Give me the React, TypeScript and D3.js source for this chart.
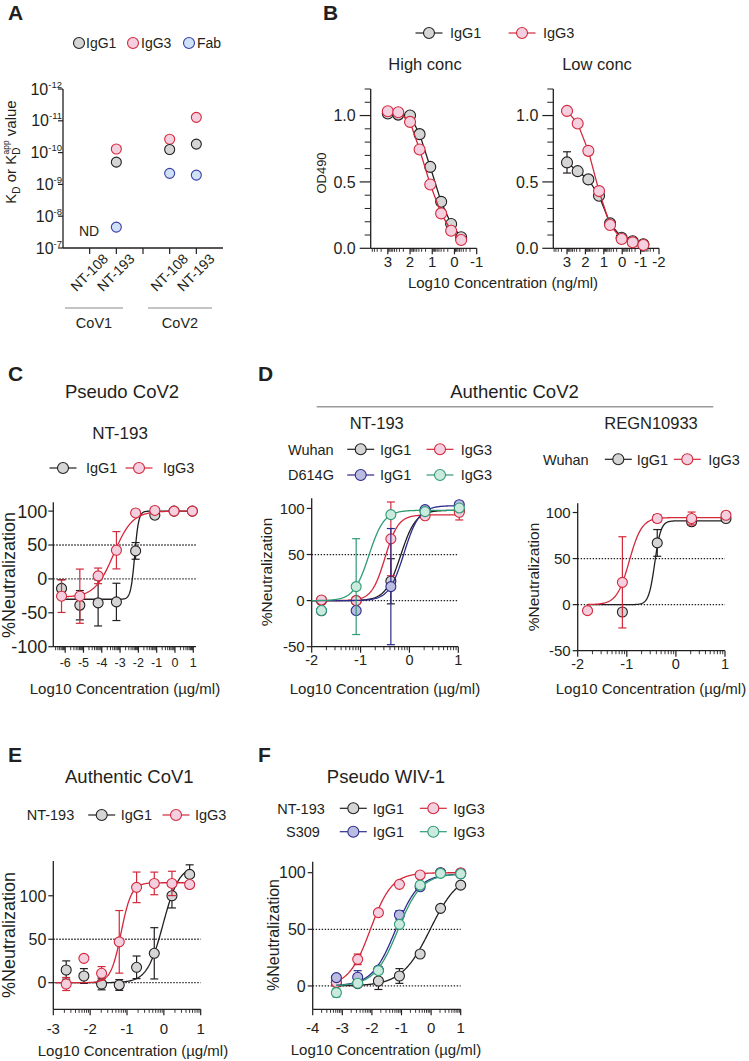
import React from 'react';
import * as d3 from 'd3';

const FONT = '"Liberation Sans", Arial, Helvetica, sans-serif';
const INK = '#231f20';

type Pal = { fill: string; stroke: string };
const GRAY: Pal = { fill: '#d5d5d5', stroke: '#231f20' };
const RED: Pal = { fill: '#f3cfdf', stroke: '#d4283b' };
const BLUE: Pal = { fill: '#bbbde0', stroke: '#2d2b8c' };
const GREEN: Pal = { fill: '#cae9df', stroke: '#2f9b72' };
const FAB: Pal = { fill: '#cfe1f6', stroke: '#3a3ea4' };

type Fit = { bottom: number; top: number; ec50: number; hill: number };
type Series = { x: number[]; y: (number | null)[]; err?: number[]; pal: Pal; fit?: Fit; connect?: boolean };

// ---- A: KD values
const kdSlots = [1, 2, 4, 5];
const kdAntibodies = ['NT-108', 'NT-193', 'NT-108', 'NT-193'];
const kdGroups = ['CoV1', 'CoV2'];
const kdIgG1 = [null, 2.0e-10, 8.0e-11, 5.4e-11];
const kdIgG3 = [null, 7.7e-11, 3.8e-11, 7.8e-12];
const kdFab = [null, 2.2e-8, 4.5e-10, 5.1e-10];
const kdExponents = [-12, -11, -10, -9, -8, -7];

// ---- B: ELISA
const elisaHighX = [3, 2.53, 2.0, 1.57, 1.09, 0.6, 0.15, -0.3];
const elisaHighIgG1 = [1.015, 1.007, 1.0, 0.86, 0.613, 0.35, 0.183, 0.083];
const elisaHighIgG3 = [1.032, 1.025, 0.952, 0.744, 0.481, 0.263, 0.132, 0.062];
const elisaLowX = [3, 2.42, 1.84, 1.26, 0.66, 0.03, -0.57, -1.15];
const elisaLowIgG1 = [0.647, 0.581, 0.519, 0.396, 0.188, 0.08, 0.053, 0.03];
const elisaLowIgG1Err = [0.08, 0, 0, 0, 0, 0, 0, 0];
const elisaLowIgG3 = [1.035, 0.94, 0.734, 0.431, 0.175, 0.07, 0.045, 0.025];

// ---- C: pseudo CoV2
const pcX = [-6.2, -5.2, -4.2, -3.2, -2.15, -1.1, -0.05, 0.95];
const pcIgG1 = [-14, -38.8, -35.4, -33.9, 41.3, 94, 100, 100];
const pcIgG1Err = [13, 21.6, 34, 27.5, 12.3, 5, 0, 0];
const pcIgG3 = [-25.5, -25.5, 4.5, 42.3, 97.3, 101, 100, 100];
const pcIgG3Err = [24, 40, 11.5, 27.5, 0, 0, 0, 0];
const pcFitIgG1: Fit = { bottom: -30, top: 100, ec50: -2.2, hill: 4 };
const pcFitIgG3: Fit = { bottom: -27, top: 100, ec50: -3.35, hill: 0.85 };

// ---- D: authentic CoV2
const acX = [-1.8, -1.09, -0.38, 0.32, 1.02];
const acWuhanIgG1 = [0, 0, 21, 97.6, 97.6];
const acWuhanIgG1Err = [0, 0, 24.5, 0, 0];
const acWuhanIgG3 = [0.7, 0, 67, 92, 95.8];
const acWuhanIgG3Err = [0, 0, 40, 0, 8.3];
const acD614GIgG1 = [-11, -10.8, 15.2, 98.7, 104];
const acD614GIgG1Err = [0, 0, 63, 0, 0];
const acD614GIgG3 = [-10.8, 15.2, 93.3, 96.5, 100.5];
const acD614GIgG3Err = [0, 52, 0, 0, 0];
const regnIgG1 = [null, -8, 67, 90, 93.5];
const regnIgG1Err = [0, 0, 14.5, 3.5, 0];
const regnIgG3 = [-6.5, 24.2, 93.5, 93.5, 97];
const regnIgG3Err = [0, 49.5, 4.2, 7, 0];

// ---- E: authentic CoV1
const ecX = [-2.65, -2.17, -1.69, -1.21, -0.74, -0.26, 0.22, 0.7];
const ecIgG1 = [14.6, 7.7, -1.5, -2.6, 17.7, 33.8, 100, 124.6];
const ecIgG1Err = [10.5, 8.5, 6.7, 6.2, 13, 29.5, 14, 11];
const ecIgG3 = [-1.5, 28, 10.8, 47, 109.7, 114.2, 114.2, 113];
const ecIgG3Err = [7.5, 0, 7.7, 36, 17.6, 13, 14, 3];

// ---- F: pseudo WIV-1
const pwX = [-3.2, -2.48, -1.78, -1.07, -0.37, 0.32, 1.0];
const pwNtIgG1 = [3, 2, 4.4, 8.8, 28.2, 68.5, 89];
const pwNtIgG1Err = [0, 0, 7.5, 6.5, 0, 0, 0];
const pwNtIgG3 = [3.2, 23.5, 64.7, 89.7, 98, 100, 100];
const pwNtIgG3Err = [0, 4.7, 0, 0, 0, 0, 0];
const pwSIgG1 = [7.4, 7.7, 14, 62.7, 87.6, 100, 99];
const pwSIgG1Err = [0, 5.8, 3, 3.8, 0, 0, 0];
const pwSIgG3 = [-5.9, 2.4, 13.5, 54.4, 89, 99.4, 99];
const pwSIgG3Err = [3.8, 0, 0, 0, 0, 0, 0];

const logistic = (f: Fit) => (x: number) =>
  f.bottom + (f.top - f.bottom) / (1 + Math.pow(10, (f.ec50 - x) * f.hill));

type PlotProps = {
  xDomain: [number, number];
  xRange: [number, number];
  yDomain: [number, number];
  yRange: [number, number];
  xTicks: number[];
  yTicks: number[];
  yMinor?: number[];
  logMinor?: boolean;
  xFont: number;
  yFont: number;
  xLabelDy: number;
  yFmt?: (v: number) => string;
  dotted?: number[];
  series: Series[];
  curveX?: [number, number];
  r?: number;
  yTickLen?: number;
  yLabelGap?: number;
};

function Plot(p: PlotProps) {
  const x = d3.scaleLinear().domain(p.xDomain).range(p.xRange);
  const y = d3.scaleLinear().domain(p.yDomain).range(p.yRange);
  const [xl, xr] = p.xRange;
  const [yb, yt] = p.yRange;
  const lo = Math.min(...p.xDomain);
  const hi = Math.max(...p.xDomain);
  // log-style minor ticks between the integer (decade) ticks
  const minor: number[] = [];
  if (p.logMinor) {
    for (let n = Math.floor(lo) - 1; n <= hi; n++) {
      for (let k = 2; k <= 9; k++) {
        const v = n + Math.log10(k);
        if (v >= lo && v <= hi) minor.push(v);
      }
    }
  }
  const tl = p.yTickLen ?? 5;
  const gap = p.yLabelGap ?? 2;
  const fmt = p.yFmt ?? ((v: number) => String(v));
  const r = p.r ?? 5;
  const cx = p.curveX ?? [lo, hi];
  const samples = d3.range(201).map((i) => cx[0] + ((cx[1] - cx[0]) * i) / 200);
  const line = d3.line<[number, number]>().x((d) => x(d[0])).y((d) => y(d[1]));

  return (
    <g>
      {(p.dotted || []).map((v) => (
        <line key={'d' + v} x1={xl} x2={xr} y1={y(v)} y2={y(v)} stroke={INK} strokeWidth={1.3} strokeDasharray="1.4 1.6" />
      ))}
      <line x1={xl} x2={xl} y1={yb} y2={yt} stroke={INK} strokeWidth={1.3} />
      <line x1={xl} x2={xr} y1={yb} y2={yb} stroke={INK} strokeWidth={1.3} />
      {p.yTicks.map((v) => (
        <g key={'yt' + v}>
          <line x1={xl - tl} x2={xl} y1={y(v)} y2={y(v)} stroke={INK} strokeWidth={1.2} />
          <text x={xl - tl - gap} y={y(v) + p.yFont * 0.36} textAnchor="end" fontSize={p.yFont}>
            {fmt(v)}
          </text>
        </g>
      ))}
      {(p.yMinor || []).map((v) => (
        <line key={'ym' + v} x1={xl - 6} x2={xl} y1={y(v)} y2={y(v)} stroke={INK} strokeWidth={1} />
      ))}
      {minor.map((v, i) => (
        <line key={'xm' + i} x1={x(v)} x2={x(v)} y1={yb} y2={yb + 3.5} stroke={INK} strokeWidth={0.9} />
      ))}
      {p.xTicks.map((v) => (
        <g key={'xt' + v}>
          <line x1={x(v)} x2={x(v)} y1={yb} y2={yb + 6} stroke={INK} strokeWidth={1.2} />
          <text x={x(v)} y={yb + p.xLabelDy} textAnchor="middle" fontSize={p.xFont}>
            {String(v)}
          </text>
        </g>
      ))}
      {p.series.map((s, si) => {
        const pts = s.x.map((xv, i) => [xv, s.y[i]] as [number, number | null]).filter((d) => d[1] !== null) as [number, number][];
        return (
          <g key={'s' + si}>
            {(s.err || []).map((e, i) =>
              e > 0 && s.y[i] !== null ? (
                <g key={'e' + i} stroke={s.pal.stroke} strokeWidth={1.2}>
                  <line x1={x(s.x[i])} x2={x(s.x[i])} y1={y((s.y[i] as number) - e)} y2={y((s.y[i] as number) + e)} />
                  <line x1={x(s.x[i]) - 4} x2={x(s.x[i]) + 4} y1={y((s.y[i] as number) - e)} y2={y((s.y[i] as number) - e)} />
                  <line x1={x(s.x[i]) - 4} x2={x(s.x[i]) + 4} y1={y((s.y[i] as number) + e)} y2={y((s.y[i] as number) + e)} />
                </g>
              ) : null
            )}
            {s.fit && (
              <path
                d={line(samples.map((v) => [v, logistic(s.fit as Fit)(v)] as [number, number])) || ''}
                fill="none"
                stroke={s.pal.stroke}
                strokeWidth={1.3}
              />
            )}
            {s.connect && <path d={line(pts) || ''} fill="none" stroke={s.pal.stroke} strokeWidth={1.3} />}
            {pts.map((d, i) => (
              <circle key={'p' + i} cx={x(d[0])} cy={y(d[1])} r={r} fill={s.pal.fill} stroke={s.pal.stroke} strokeWidth={1.1} />
            ))}
          </g>
        );
      })}
    </g>
  );
}

function LegendItem({ x, y, pal, label, tx, line = true, fs = 14.5 }: { x: number; y: number; pal: Pal; label: string; tx: number; line?: boolean; fs?: number }) {
  return (
    <g>
      {line && <line x1={x - 13.5} x2={x + 13.5} y1={y} y2={y} stroke={pal.stroke} strokeWidth={1.2} />}
      <circle cx={x} cy={y} r={5.5} fill={pal.fill} stroke={pal.stroke} strokeWidth={1.1} />
      <text x={tx} y={y + fs * 0.36} fontSize={fs}>
        {label}
      </text>
    </g>
  );
}

function Letter({ x, y, t }: { x: number; y: number; t: string }) {
  return (
    <text x={x} y={y} fontSize={21} fontWeight="bold">
      {t}
    </text>
  );
}

function PanelA() {
  const y = d3.scaleLog().domain([1e-12, 1e-7]).range([89, 248]);
  const x = d3.scaleLinear().domain([0, 6]).range([63, 223]);
  const series = [
    { v: kdIgG3, pal: RED },
    { v: kdIgG1, pal: GRAY },
    { v: kdFab, pal: FAB },
  ];
  return (
    <g>
      <Letter x={8} y={20} t="A" />
      <LegendItem x={79} y={43} pal={GRAY} label="IgG1" tx={86} line={false} fs={14} />
      <LegendItem x={133} y={43} pal={RED} label="IgG3" tx={141} line={false} fs={14} />
      <LegendItem x={189} y={43} pal={FAB} label="Fab" tx={197} line={false} fs={14} />
      <line x1={63} x2={63} y1={89} y2={248} stroke={INK} strokeWidth={1.3} />
      <line x1={63} x2={223} y1={248} y2={248} stroke={INK} strokeWidth={1.3} />
      {kdExponents.map((e) => (
        <g key={e}>
          <line x1={58} x2={63} y1={y(Math.pow(10, e))} y2={y(Math.pow(10, e))} stroke={INK} strokeWidth={1.2} />
          <text x={62} y={y(Math.pow(10, e)) + 5.5} textAnchor="end" fontSize={16}>
            10<tspan fontSize={9.5} dy={-7}>{String(e)}</tspan>
          </text>
        </g>
      ))}
      {[1, 2, 3, 4, 5].map((s) => (
        <line key={s} x1={x(s)} x2={x(s)} y1={248} y2={254} stroke={INK} strokeWidth={1.2} />
      ))}
      <text transform="translate(16,152) rotate(-90)" textAnchor="middle" fontSize={15}>
        K<tspan fontSize={10} dy={4}>D</tspan>
        <tspan dy={-4}> or K</tspan>
        <tspan fontSize={10} dy={4}>D</tspan>
        <tspan fontSize={8.5} dx={-7} dy={-11}>app</tspan>
        <tspan dy={7}> value</tspan>
      </text>
      <text x={89} y={236} textAnchor="middle" fontSize={14}>
        ND
      </text>
      {series.map((s, si) =>
        s.v.map((v, i) =>
          v === null ? null : (
            <circle key={si + '-' + i} cx={x(kdSlots[i])} cy={y(v)} r={5} fill={s.pal.fill} stroke={s.pal.stroke} strokeWidth={1.1} />
          )
        )
      )}
      {kdAntibodies.map((a, i) => (
        <text key={'l' + i} transform={`translate(${x(kdSlots[i]) + 3},276) rotate(-45)`} textAnchor="middle" fontSize={14}>
          {a}
        </text>
      ))}
      {kdGroups.map((g, i) => {
        const xa = i === 0 ? 65 : 148;
        const xb = i === 0 ? 123 : 212;
        return (
          <g key={g}>
            <line x1={xa} x2={xb} y1={308} y2={308} stroke="#8a8a8a" strokeWidth={1.2} />
            <text x={(xa + xb) / 2} y={328} textAnchor="middle" fontSize={14.5}>
              {g}
            </text>
          </g>
        );
      })}
    </g>
  );
}

function PanelB() {
  const yMinor = d3.range(1, 13).map((i) => i / 10).filter((v) => Math.abs(v - 0.5) > 1e-6 && Math.abs(v - 1) > 1e-6);
  const common = {
    yDomain: [0, 1.2] as [number, number],
    yRange: [248.3, 89] as [number, number],
    yTicks: [0, 0.5, 1],
    yMinor,
    logMinor: true,
    xFont: 15,
    yFont: 16,
    xLabelDy: 19,
    yFmt: d3.format('.1f'),
    r: 5.5,
    yTickLen: 11,
    yLabelGap: 4,
  };
  return (
    <g>
      <Letter x={323} y={20} t="B" />
      <LegendItem x={429} y={33} pal={GRAY} label="IgG1" tx={450} />
      <LegendItem x={522} y={33} pal={RED} label="IgG3" tx={543} />
      <text x={425} y={70} textAnchor="middle" fontSize={16.5}>High conc</text>
      <text x={597} y={70} textAnchor="middle" fontSize={16.5}>Low conc</text>
      <Plot
        {...common}
        xDomain={[3.77, -1]}
        xRange={[370.7, 476.7]}
        xTicks={[3, 2, 1, 0, -1]}
        series={[
          { x: elisaHighX, y: elisaHighIgG1, pal: GRAY, connect: true },
          { x: elisaHighX, y: elisaHighIgG3, pal: RED, connect: true },
        ]}
      />
      <Plot
        {...common}
        xDomain={[3.745, -2]}
        xRange={[553.3, 659]}
        xTicks={[3, 2, 1, 0, -1, -2]}
        series={[
          { x: elisaLowX, y: elisaLowIgG1, err: elisaLowIgG1Err, pal: GRAY, connect: true },
          { x: elisaLowX, y: elisaLowIgG3, pal: RED, connect: true },
        ]}
      />
      <text transform="translate(326,173) rotate(-90)" textAnchor="middle" fontSize={13}>OD490</text>
      <text x={503} y={288} textAnchor="middle" fontSize={15}>Log10 Concentration (ng/ml)</text>
    </g>
  );
}

function PanelC() {
  return (
    <g>
      <Letter x={8} y={381} t="C" />
      <text x={122} y={398} textAnchor="middle" fontSize={18.5}>Pseudo CoV2</text>
      <text x={120} y={438.5} textAnchor="middle" fontSize={17}>NT-193</text>
      <LegendItem x={63} y={468} pal={GRAY} label="IgG1" tx={86} />
      <LegendItem x={139} y={468} pal={RED} label="IgG3" tx={163} />
      <Plot
        xDomain={[-6.65, 1.15]}
        xRange={[53.3, 196]}
        yDomain={[-100, 113]}
        yRange={[646.7, 502.3]}
        xTicks={[-6, -5, -4, -3, -2, -1, 0, 1]}
        yTicks={[-100, -50, 0, 50, 100]}
        logMinor
        xFont={12.5}
        yFont={18}
        xLabelDy={20}
        dotted={[0, 50]}
        curveX={[-6.2, 0.95]}
        yLabelGap={1}
        series={[
          { x: pcX, y: pcIgG1, err: pcIgG1Err, pal: GRAY, fit: pcFitIgG1 },
          { x: pcX, y: pcIgG3, err: pcIgG3Err, pal: RED, fit: pcFitIgG3 },
        ]}
      />
      <text transform="translate(15,575) rotate(-90)" textAnchor="middle" fontSize={18}>%Neutralization</text>
      <text x={125} y={694} textAnchor="middle" fontSize={15}>Log10 Concentration (µg/ml)</text>
    </g>
  );
}

function PanelD() {
  const common = {
    xDomain: [-2, 1] as [number, number],
    xTicks: [-2, -1, 0, 1],
    yTicks: [-50, 0, 50, 100],
    logMinor: true,
    xFont: 14.5,
    yFont: 15,
    xLabelDy: 18,
    dotted: [0, 50],
  };
  return (
    <g>
      <Letter x={258} y={381} t="D" />
      <text x={514.5} y={397.5} textAnchor="middle" fontSize={18.5}>Authentic CoV2</text>
      <line x1={316.7} x2={713.3} y1={406.7} y2={406.7} stroke="#9a9a9a" strokeWidth={1.4} />
      <text x={376.7} y={428.5} textAnchor="middle" fontSize={16.5}>NT-193</text>
      <text x={651} y={428.5} textAnchor="middle" fontSize={16.5}>REGN10933</text>
      <text x={288} y={454.5} fontSize={14.5}>Wuhan</text>
      <LegendItem x={360.7} y={449.3} pal={GRAY} label="IgG1" tx={380} />
      <LegendItem x={440} y={449.3} pal={RED} label="IgG3" tx={460.7} />
      <text x={288} y={480.2} fontSize={14.5}>D614G</text>
      <LegendItem x={360.7} y={475} pal={BLUE} label="IgG1" tx={380} />
      <LegendItem x={440} y={475} pal={GREEN} label="IgG3" tx={460.7} />
      <text x={543} y={464.5} fontSize={14.5}>Wuhan</text>
      <LegendItem x={618.3} y={459.3} pal={GRAY} label="IgG1" tx={636.7} />
      <LegendItem x={687.3} y={459.3} pal={RED} label="IgG3" tx={708.3} />
      <Plot
        {...common}
        xRange={[311.7, 458.3]}
        yDomain={[-50, 111]}
        yRange={[646.7, 498.3]}
        curveX={[-2, 1]}
        series={[
          { x: acX, y: acWuhanIgG1, err: acWuhanIgG1Err, pal: GRAY, fit: { bottom: 0, top: 98, ec50: -0.18, hill: 2.8 } },
          { x: acX, y: acWuhanIgG3, err: acWuhanIgG3Err, pal: RED, fit: { bottom: 0, top: 93, ec50: -0.5, hill: 3.2 } },
          { x: acX, y: acD614GIgG1, err: acD614GIgG1Err, pal: BLUE, fit: { bottom: 0, top: 103, ec50: -0.11, hill: 2.8 } },
          { x: acX, y: acD614GIgG3, err: acD614GIgG3Err, pal: GREEN, fit: { bottom: 0, top: 98, ec50: -0.83, hill: 2.8 } },
        ]}
      />
      <Plot
        {...common}
        xRange={[577.7, 725]}
        yDomain={[-50, 110]}
        yRange={[650.7, 503.3]}
        curveX={[-1.8, 1.02]}
        series={[
          { x: acX, y: regnIgG1, err: regnIgG1Err, pal: GRAY, fit: { bottom: 0, top: 91, ec50: -0.43, hill: 7 } },
          { x: acX, y: regnIgG3, err: regnIgG3Err, pal: RED, fit: { bottom: 0, top: 94.5, ec50: -0.95, hill: 3.4 } },
        ]}
      />
      <text transform="translate(272,572) rotate(-90)" textAnchor="middle" fontSize={15.5}>%Neutralization</text>
      <text transform="translate(539,577) rotate(-90)" textAnchor="middle" fontSize={15.5}>%Neutralization</text>
      <text x={385} y={694} textAnchor="middle" fontSize={15}>Log10 Concentration (µg/ml)</text>
      <text x={651} y={694} textAnchor="middle" fontSize={15}>Log10 Concentration (µg/ml)</text>
    </g>
  );
}

function PanelE() {
  return (
    <g>
      <Letter x={8} y={762} t="E" />
      <text x={129.3} y={783} textAnchor="middle" fontSize={18.5}>Authentic CoV1</text>
      <text x={26.7} y={820} fontSize={14.5}>NT-193</text>
      <LegendItem x={101.7} y={815} pal={GRAY} label="IgG1" tx={120.7} />
      <LegendItem x={176} y={815} pal={RED} label="IgG3" tx={195} />
      <Plot
        xDomain={[-3, 1]}
        xRange={[53.3, 200.7]}
        yDomain={[-30.6, 140]}
        yRange={[1009.3, 861]}
        xTicks={[-3, -2, -1, 0, 1]}
        yTicks={[0, 50, 100]}
        logMinor
        xFont={15}
        yFont={16}
        xLabelDy={25}
        dotted={[0, 50]}
        curveX={[-2.95, 0.7]}
        series={[
          { x: ecX, y: ecIgG1, err: ecIgG1Err, pal: GRAY, fit: { bottom: 0, top: 135, ec50: -0.02, hill: 2 } },
          { x: ecX, y: ecIgG3, err: ecIgG3Err, pal: RED, fit: { bottom: 0, top: 115, ec50: -1.16, hill: 3.1 } },
        ]}
      />
      <text transform="translate(15,935) rotate(-90)" textAnchor="middle" fontSize={18}>%Neutralization</text>
      <text x={133} y={1056} textAnchor="middle" fontSize={15}>Log10 Concentration (µg/ml)</text>
    </g>
  );
}

function PanelF() {
  return (
    <g>
      <Letter x={258} y={762} t="F" />
      <text x={386} y={783} textAnchor="middle" fontSize={18.5}>Pseudo WIV-1</text>
      <text x={301} y={813.5} textAnchor="middle" fontSize={14.5}>NT-193</text>
      <LegendItem x={353.3} y={808.3} pal={GRAY} label="IgG1" tx={372.7} />
      <LegendItem x={433.3} y={808.3} pal={RED} label="IgG3" tx={453.3} />
      <text x={303} y={837} textAnchor="middle" fontSize={14.5}>S309</text>
      <LegendItem x={353.3} y={831.7} pal={BLUE} label="IgG1" tx={372.7} />
      <LegendItem x={433.3} y={831.7} pal={GREEN} label="IgG3" tx={453.3} />
      <Plot
        xDomain={[-4, 1]}
        xRange={[312.7, 460.7]}
        yDomain={[-20.6, 109.7]}
        yRange={[1009.3, 861.7]}
        xTicks={[-4, -3, -2, -1, 0, 1]}
        yTicks={[0, 50, 100]}
        logMinor
        xFont={15}
        yFont={16}
        xLabelDy={24}
        dotted={[0, 50]}
        curveX={[-3.2, 1]}
        series={[
          { x: pwX, y: pwNtIgG1, err: pwNtIgG1Err, pal: GRAY, fit: { bottom: 0, top: 100, ec50: -0.03, hill: 0.9 } },
          { x: pwX, y: pwNtIgG3, err: pwNtIgG3Err, pal: RED, fit: { bottom: 0, top: 100, ec50: -2.05, hill: 1.2 } },
          { x: pwX, y: pwSIgG1, err: pwSIgG1Err, pal: BLUE, fit: { bottom: 0, top: 99, ec50: -1.2, hill: 1.1 } },
          { x: pwX, y: pwSIgG3, err: pwSIgG3Err, pal: GREEN, fit: { bottom: 0, top: 99, ec50: -1.12, hill: 1.1 } },
        ]}
      />
      <text transform="translate(279,935) rotate(-90)" textAnchor="middle" fontSize={16}>%Neutralization</text>
      <text x={386} y={1055} textAnchor="middle" fontSize={15}>Log10 Concentration (µg/ml)</text>
    </g>
  );
}

export default function App() {
  return (
    <svg
      width={749}
      height={1061}
      viewBox="0 0 749 1061"
      style={{ position: 'absolute', left: 0, top: 0, display: 'block', background: '#fff' }}
      fontFamily={FONT}
      fill={INK}
    >
      <rect width={749} height={1061} fill="#fff" />
      <PanelA />
      <PanelB />
      <PanelC />
      <PanelD />
      <PanelE />
      <PanelF />
    </svg>
  );
}
